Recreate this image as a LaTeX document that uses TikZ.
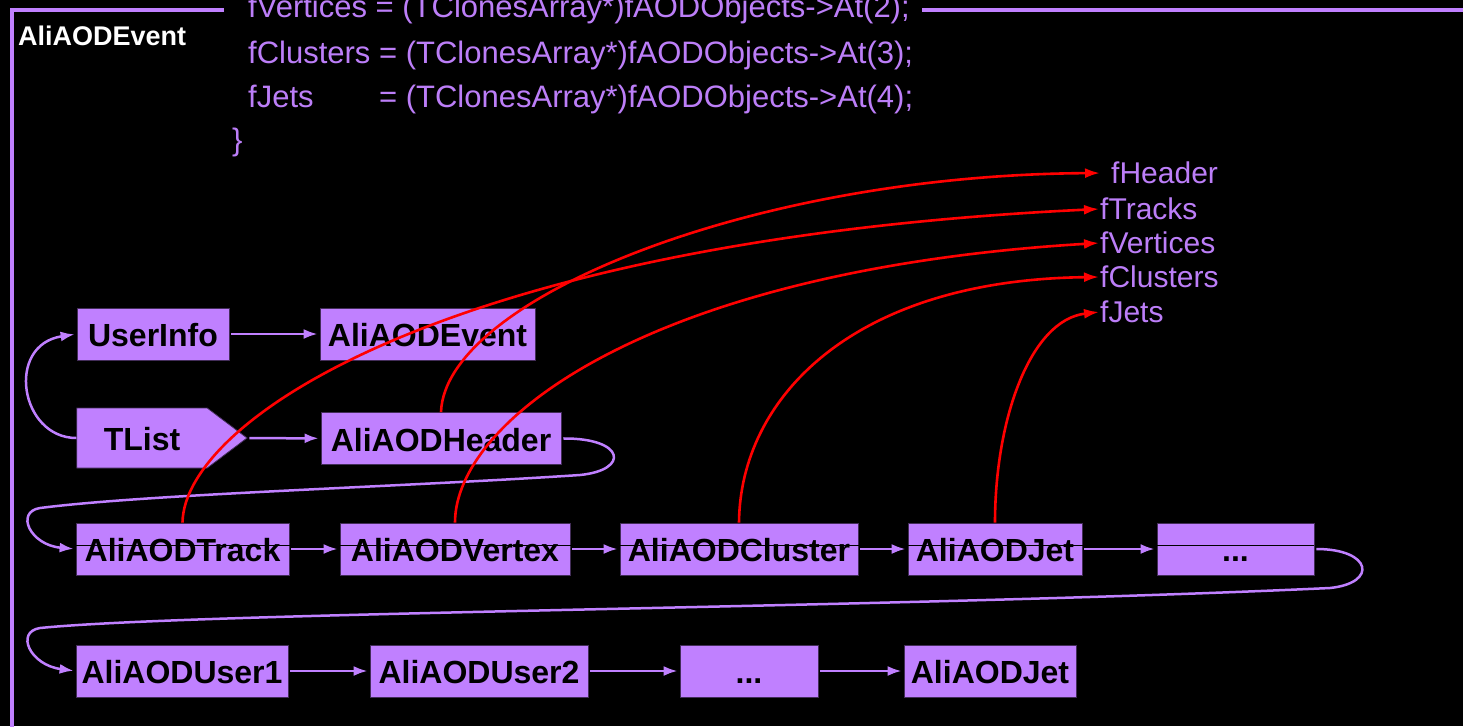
\documentclass[tikz,border=0pt]{standalone}
\usepackage{fontspec}
\setmainfont{Liberation Sans}
\usetikzlibrary{arrows.meta}
\usetikzlibrary{shapes.symbols}
\definecolor{aodpurple}{RGB}{192,128,255}
\definecolor{aodtext}{RGB}{188,126,248}

\begin{document}
\begin{tikzpicture}[x=1pt,y=-1pt,
  box/.style={fill=aodpurple,draw=aodpurple!35!black,line width=0.8pt,minimum height=52pt,
              inner sep=0pt,text height=25pt,text depth=0pt,
              font=\bfseries\fontsize{32}{32}\selectfont},
  link/.style={draw=aodpurple,line width=2.5pt,-{Latex[length=14pt,width=10pt]},
               shorten <=2pt,shorten >=2pt},
  ptr/.style={draw=red,line width=2.6pt,-{Latex[length=15pt,width=10pt]}},
  code/.style={anchor=base west,inner sep=0pt,text=aodtext,font=\fontsize{31}{31}\selectfont},
  field/.style={anchor=west,inner sep=1pt,text=aodtext,font=\fontsize{30}{30}\selectfont}]

\useasboundingbox (0,0) rectangle (1463,726);
\fill[black] (0,0) rectangle (1463,726);

% frame of the event
\draw[aodpurple,line width=4pt] (224,10) -- (12,10) -- (12,730);
\draw[aodpurple,line width=4pt] (922,10) -- (1467,10);
\node[anchor=base west,inner sep=0pt,text=white,font=\bfseries\fontsize{27}{27}\selectfont]
  (title) at (18,45) {AliAODEvent};

% the code
\node[code] (cvtx) at (248,17) {fVertices = (TClonesArray*)fAODObjects->At(2);};
\node[code] (cclu) at (248,63) {fClusters = (TClonesArray*)fAODObjects->At(3);};
\node[code] (cjet) at (248,107) {\rlap{fJets}\phantom{fClusters} = (TClonesArray*)fAODObjects->At(4);};
\node[code] (cend) at (232,150) {\}};

% data members
\node[field] (fhdr) at (1110,173) {fHeader};
\node[field] (ftrk) at (1099,209) {fTracks};
\node[field] (fvtx) at (1099,243) {fVertices};
\node[field] (fclu) at (1099,277) {fClusters};
\node[field] (fjet) at (1099,312) {fJets};

% objects
\node[box,minimum width=152pt] (usr) at (153,334) {UserInfo};
\node[box,minimum width=215pt] (evt) at (427.5,334) {AliAODEvent};
\node[box,shape=signal,signal to=east,signal pointer angle=74,minimum height=60pt,
      inner xsep=27pt] (tlist) at (142,438) {TList};
\node[box,minimum width=240pt] (hdr) at (441,438.5) {AliAODHeader};

\node[box,minimum width=213pt] (trk) at (182.5,549) {AliAODTrack};
\node[box,minimum width=230pt] (vtx) at (455,549) {AliAODVertex};
\node[box,minimum width=238pt] (clu) at (739,549) {AliAODCluster};
\node[box,minimum width=174pt] (jet) at (995,549) {AliAODJet};
\node[box,minimum width=157pt] (dotsa) at (1235.5,549) {...};
\draw[black,line width=1pt] ([yshift=4pt]trk.west) -- ([yshift=4pt]dotsa.east);

\node[box,minimum width=212pt] (usra) at (182,671) {AliAODUser1};
\node[box,minimum width=218pt] (usrb) at (479,671) {AliAODUser2};
\node[box,minimum width=138pt] (dotsb) at (749,671) {...};
\node[box,minimum width=172pt] (jetb) at (990,671) {AliAODJet};

% list links
\draw[link] (usr) -- (evt);
\draw[link] (tlist) -- (hdr);
\draw[link,shorten <=0pt] (tlist.west) .. controls (20,438) and (5,345) .. (usr.west);
\draw[link] (hdr.east) .. controls (625,438) and (630,470) .. (580,475)
                       .. controls (400,487) and (150,494) .. (40,508)
                       .. controls (15,512) and (30,545) .. (trk.west);
\draw[link] (trk) -- (vtx);
\draw[link] (vtx) -- (clu);
\draw[link] (clu) -- (jet);
\draw[link] (jet) -- (dotsa);
\draw[link] (dotsa.east) .. controls (1372,549) and (1378,583) .. (1330,588)
                         .. controls (900,608) and (200,612) .. (40,628)
                         .. controls (15,632) and (30,665) .. (usra.west);
\draw[link] (usra) -- (usrb);
\draw[link] (usrb) -- (dotsb);
\draw[link] (dotsb) -- (jetb);

% pointers
\draw[ptr,shorten >=10pt] (hdr.north) .. controls (445,300) and (750,175) .. (fhdr.west);
\draw[ptr] (trk.north) .. controls (184,420) and (450,240) .. (ftrk.west);
\draw[ptr] (vtx.north) .. controls (455,420) and (650,270) .. (fvtx.west);
\draw[ptr] (clu.north) .. controls (740,400) and (850,280) .. (fclu.west);
\draw[ptr] (jet.north) .. controls (995,420) and (1030,320) .. (fjet.west);

\end{tikzpicture}
\end{document}
